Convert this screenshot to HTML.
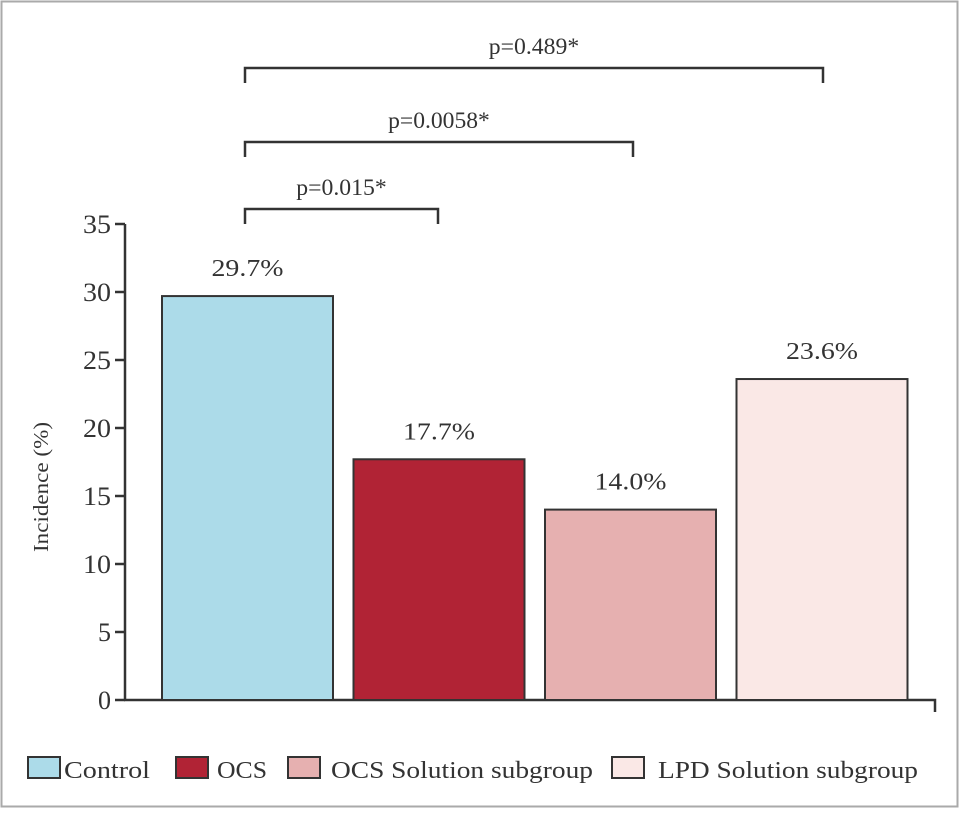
<!DOCTYPE html>
<html><head><meta charset="utf-8"><style>
body{margin:0;background:#fff;}
svg text{font-family:"Liberation Serif","Times New Roman",serif;fill:#333;}
</style></head><body>
<svg id="chart" width="960" height="810">
<rect x="1.5" y="1.5" width="956" height="805" fill="#fff" stroke="#aaa" stroke-width="2"/>
<g id="g"></g>
</svg>
<script>
const categories=["Control","OCS","OCS Solution subgroup","LPD Solution subgroup"];
const values=[29.7,17.7,14.0,23.6];
const valueLabels=["29.7%","17.7%","14.0%","23.6%"];
const colors=["#acdbe9","#b12335","#e6b0b0","#fae8e6"];
const yTicks=[0,5,10,15,20,25,30,35];
const pLabels=["p=0.015*","p=0.0058*","p=0.489*"];
const pTargets=[1,2,3];
const NS="http://www.w3.org/2000/svg";
const g=document.getElementById("g");
function el(t,a,txt){const e=document.createElementNS(NS,t);for(const k in a)e.setAttribute(k,a[k]);if(txt!==undefined)e.textContent=txt;g.appendChild(e);return e;}
const y0=700,yTop=224,yMax=35;
const y=v=>y0-(y0-yTop)*v/yMax;
const bw=171,bx=i=>162+i*191.5;
const cx=i=>bx(i)+bw/2;
let a=el("line",{x1:125,y1:y(35),x2:125,y2:y0+1,stroke:"#333","stroke-width":2.5});

a=el("path",{d:`M124 ${y0} H935 V${y0+12}`,fill:"none",stroke:"#333","stroke-width":2.5});

yTicks.forEach(t=>{
 const l=el("line",{x1:115,x2:125,y1:y(t),y2:y(t),stroke:"#333","stroke-width":2.5});
 
 const tx=el("text",{x:111,y:y(t)+9,"text-anchor":"end","font-size":26,textLength:String(t).length>1?28:13,lengthAdjust:"spacingAndGlyphs"},t);
 
});
const yl=el("text",{transform:"translate(48,487) rotate(-90)","text-anchor":"middle","font-size":21,textLength:130,lengthAdjust:"spacingAndGlyphs"},"Incidence (%)");

values.forEach((v,i)=>{
 const r=el("rect",{x:bx(i),y:y(v),width:bw,height:y0-y(v),fill:colors[i],stroke:"#333","stroke-width":2});
 
 const t=el("text",{x:cx(i),y:y(v)-20,"text-anchor":"middle","font-size":24,textLength:72,lengthAdjust:"spacingAndGlyphs"},valueLabels[i]);
 
});
const bracketY=[209,142,68];
pTargets.forEach((tIdx,k)=>{
 const x1=245,x2=[438,633,823][k],by=bracketY[k];
 const p=el("path",{d:`M${x1} ${by+15} V${by} H${x2} V${by+15}`,fill:"none",stroke:"#333","stroke-width":2.5});
 
 const t=el("text",{x:(x1+x2)/2,y:by-14,"text-anchor":"middle","font-size":23,textLength:pLabels[k].length*11.3,lengthAdjust:"spacingAndGlyphs"},pLabels[k]);
 
});
const lsx=[28,176,288,612],ltx=[64,217,331,658],ltw=[86,50,262,260];
categories.forEach((c,i)=>{
 const s=el("rect",{x:lsx[i],y:757,width:32,height:21,fill:colors[i],stroke:"#333","stroke-width":2});
 
 const t=el("text",{x:ltx[i],y:778,"font-size":24,textLength:ltw[i],lengthAdjust:"spacingAndGlyphs"},c);
 
});
</script>
</body></html>
